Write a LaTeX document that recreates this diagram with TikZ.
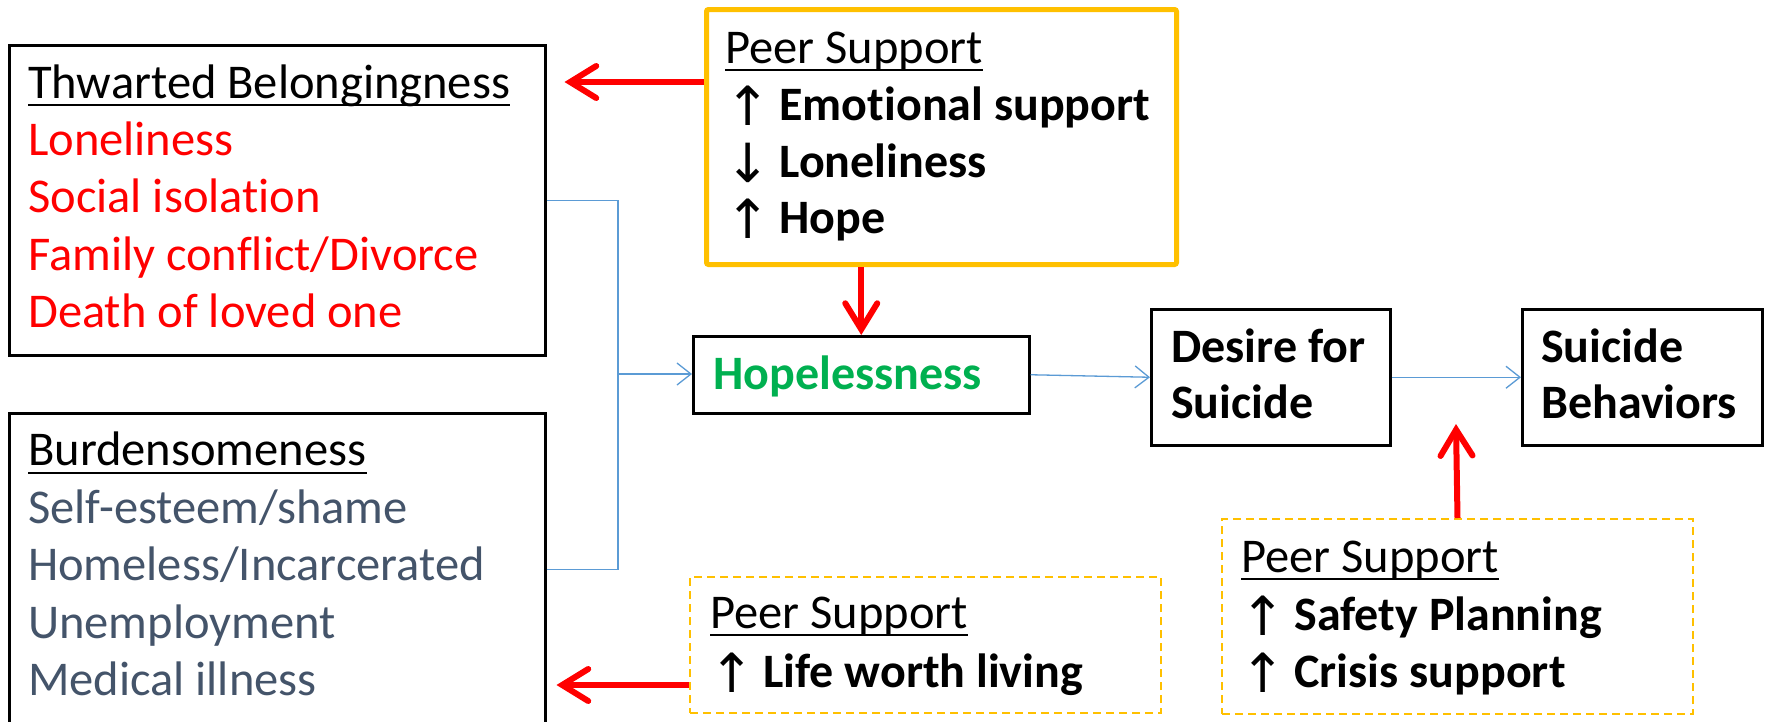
\documentclass[tikz,border=0pt]{standalone}
\usepackage{fontspec}
\setmainfont{Carlito}[Ligatures=NoCommon]
\newfontfamily\arrowfont{DejaVu Sans}
\usetikzlibrary{arrows.meta}
\definecolor{ored}{HTML}{FF0000}
\definecolor{ogreen}{HTML}{00B050}
\definecolor{oslate}{HTML}{44546A}
\definecolor{oorange}{HTML}{FFC000}
\definecolor{oblue}{HTML}{5B9BD5}
\newcommand{\upar}{\raisebox{-5pt}{\fontsize{54}{57}\arrowfont\mdseries ↑}\hspace{9pt}}
\newcommand{\downar}{\raisebox{-5pt}{\fontsize{54}{57}\arrowfont\mdseries ↓}\hspace{9pt}}
\begin{document}
\begin{tikzpicture}[x=1pt,y=-1pt,
  box/.style={draw=black,line width=2.5pt,anchor=north west,inner sep=0pt},
  peerbox/.style={draw=oorange,line width=5pt,rounded corners=2pt,anchor=north west,inner sep=0pt},
  dashbox/.style={draw=oorange,line width=2pt,dash pattern=on 8pt off 5pt,anchor=north west,inner sep=0pt},
  txt/.style={anchor=base west,inner sep=0pt,font=\fontsize{48.5}{57}\selectfont},
  btxt/.style={anchor=base west,inner sep=0pt,font=\fontsize{48}{57}\selectfont\bfseries},
  ul/.style={line width=2pt,black},
  flow/.style={draw=oblue,line width=1.3pt},
  flowarr/.style={flow,-{Straight Barb[length=14pt,width=22pt]}},
  redarr/.style={draw=ored,line width=6pt,-{Straight Barb[length=26pt,width=32pt,line cap=round]}},
]
\clip (0,0) rectangle (1765,721);
\fill[white] (0,0) rectangle (1765,721);

% boxes
\node[box,minimum width=536pt,minimum height=310pt] (tb) at (8,44) {};
\node[box,minimum width=536pt,minimum height=312pt] (burden) at (8,412) {};
\node[peerbox,minimum width=470pt,minimum height=255pt] (peer) at (704,7) {};
\node[box,minimum width=336pt,minimum height=77pt] (hope) at (692,335) {};
\node[box,minimum width=239pt,minimum height=136pt] (desire) at (1150,308) {};
\node[box,minimum width=240pt,minimum height=136pt] (behav) at (1521,308) {};
\node[dashbox,minimum width=471pt,minimum height=136pt] (blbox) at (689,576) {};
\node[dashbox,minimum width=471pt,minimum height=195pt] (brbox) at (1221,518) {};

% thwarted belongingness
\node[txt] (tb0) at (28,98) {Thwarted Belongingness};
\draw[ul] ([yshift=-7pt]tb0.base west) -- ([yshift=-7pt]tb0.base east);
\node[txt,text=ored] (tb1) at (28,155) {Loneliness};
\node[txt,text=ored] (tb2) at (28,212) {Social isolation};
\node[txt,text=ored] (tb3) at (28,270) {Family conflict/Divorce};
\node[txt,text=ored] (tb4) at (28,327) {Death of loved one};

% burdensomeness
\node[txt] (bu0) at (28,465) {Burdensomeness};
\draw[ul] ([yshift=-8pt]bu0.base west) -- ([yshift=-8pt]bu0.base east);
\node[txt,text=oslate] (bu1) at (28,523) {Self-esteem/shame};
\node[txt,text=oslate] (bu2) at (28,580) {Homeless/Incarcerated};
\node[txt,text=oslate] (bu3) at (28,638) {Unemployment};
\node[txt,text=oslate] (bu4) at (28,695) {Medical illness};

% top peer support
\node[txt] (pt0) at (725,63) {Peer Support};
\draw[ul] ([yshift=-7pt]pt0.base west) -- ([yshift=-7pt]pt0.base east);
\node[btxt] (pt1) at (725,120) {\upar Emotional support};
\node[btxt] (pt2) at (725,177) {\downar Loneliness};
\node[btxt] (pt3) at (725,233) {\upar Hope};

% chain
\node[btxt,text=ogreen] (hopet) at (713,389) {Hopelessness};
\node[btxt] (de1) at (1171,362) {Desire for};
\node[btxt] (de2) at (1171,418) {Suicide};
\node[btxt] (sb1) at (1541,362) {Suicide};
\node[btxt] (sb2) at (1541,418) {Behaviors};

% lower peer support boxes
\node[txt] (pl0) at (710,628) {Peer Support};
\draw[ul] ([yshift=-7pt]pl0.base west) -- ([yshift=-7pt]pl0.base east);
\node[btxt] (pl1) at (709,687) {\upar Life worth living};
\node[txt] (pr0) at (1241,572) {Peer Support};
\draw[ul] ([yshift=-7pt]pr0.base west) -- ([yshift=-7pt]pr0.base east);
\node[btxt] (pr1) at (1240,630) {\upar Safety Planning};
\node[btxt] (pr2) at (1240,687) {\upar Crisis support};

% flow connectors
\coordinate (join) at (618,374);
\draw[flow] (tb.east) -| (join);
\draw[flow] (burden.east) -| (join);
\draw[flowarr] (join) -- (join -| hope.west);
\draw[flowarr] (hope.east) -- (desire.west);
\draw[flowarr] (desire.east) -- (behav.west);

% peer support effects
\coordinate (ytb) at (0,82);
\coordinate (ybu) at (0,685);
\coordinate (gap) at (1456,424);
\draw[redarr] (peer.west |- ytb) -- ([xshift=18pt]tb.east |- ytb);
\draw[redarr] (hope.north |- peer.south) -- (hope.north);
\draw[redarr] (blbox.west |- ybu) -- ([xshift=10pt]burden.east |- ybu);
\draw[redarr] (brbox.north) -- (gap);
\end{tikzpicture}
\end{document}
